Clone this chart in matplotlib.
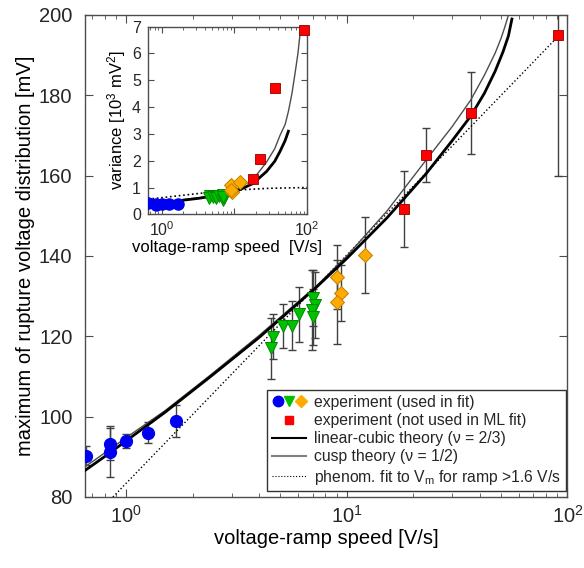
import matplotlib
matplotlib.use('Agg')
import matplotlib.pyplot as plt
from matplotlib.legend_handler import HandlerTuple
from matplotlib.lines import Line2D
from matplotlib.ticker import LogLocator, NullFormatter

plt.rcParams['font.family'] = ['Liberation Sans', 'DejaVu Sans']
plt.rcParams['mathtext.fontset'] = 'custom'
plt.rcParams['mathtext.rm'] = 'Liberation Sans'
plt.rcParams['mathtext.it'] = 'Liberation Sans:italic'
plt.rcParams['text.color'] = '0.15'

# --- data ---
blue_x = [0.66, 0.84, 0.84, 1.0, 1.26, 1.68]
blue_v = [90.3, 93.1, 91.3, 94.0, 96.0, 98.9]
blue_err = [2.4, 4.0, 6.3, 1.8, 2.6, 4.0]
blue_var = [0.42, 0.35, 0.38, 0.40, 0.37, 0.38]

green_x = [4.61, 4.52, 5.12, 5.62, 6.09, 7.04, 7.15, 6.95, 7.04]
green_v = [119.9, 117.0, 122.6, 122.6, 125.5, 129.5, 127.8, 126.5, 124.8]
green_err = [5.6, 7.5, 5.4, 6.1, 6.8, 7.0, 8.3, 10.0, 7.0]
green_var = [0.68, 0.60, 0.65, 0.62, 0.70, 0.72, 0.60, 0.55, 0.65]

orange_x = [9.04, 9.37, 9.04, 12.06]
orange_v = [134.7, 130.7, 128.6, 140.2]
orange_err = [8.0, 7.0, 10.5, 9.5]
orange_var = [1.10, 0.85, 0.90, 1.20]

red_x = [18.1, 22.8, 36.4, 91.0]
red_v = [151.7, 165.1, 175.6, 195.0]
red_err = [9.5, 6.7, 10.3, 35.0]
red_var = [1.32, 2.07, 4.72, 6.87]

# theory curves (main panel)
lc_x = [0.65, 0.8, 1.0, 1.5, 2.4, 4.0, 7.3, 10, 15.2, 22.8, 30, 36.4, 42, 47, 51, 54, 56]
lc_v = [86.6, 90.1, 94.0, 101.1, 109.9, 119.7, 132.3, 139.4, 149.5, 160.4, 168.7,
        174.8, 180.5, 186.0, 190.8, 194.8, 199.0]
cusp_x = [0.65, 0.8, 1.0, 1.5, 2.4, 4.0, 7.3, 10, 15.2, 22.8, 30, 36.4, 42, 47, 50, 52, 54, 56]
cusp_v = [87.5, 91.0, 94.8, 101.5, 110.3, 120.2, 132.6, 140.0, 151.2, 163.8, 172.2,
          178.8, 185.0, 190.5, 194.2, 197.0, 200.0, 203.5]
phenom_x = [0.87, 90.0]
phenom_v = [80.0, 194.5]

# theory curves (inset, variance)
lc_var_x = [0.65, 1.0, 3.3, 9.6, 18.1, 27.8, 36, 42.6, 50, 55.5]
lc_var = [0.40, 0.43, 0.60, 0.80, 1.15, 1.60, 1.98, 2.35, 2.75, 3.10]
cusp_var_x = [0.65, 1.0, 3.3, 9.6, 18.1, 27.8, 36, 42.6, 50, 55.5, 62, 68.8, 75, 80.7, 85]
cusp_var = [0.42, 0.45, 0.62, 0.85, 1.30, 1.95, 2.45, 2.95, 3.35, 3.84, 4.5, 5.3, 6.0, 6.8, 7.3]
phenom_var_x = [0.65, 1.0, 3.3, 9.6, 30, 100]
phenom_var = [0.57, 0.62, 0.78, 0.90, 0.97, 1.00]

c_blue = '#0000f0'
c_green = '#00c000'
c_orange = '#ffaa00'
c_red = '#ff0000'
err_kw = dict(fmt='none', ecolor='0.25', elinewidth=1.0, capsize=3, capthick=1.0, zorder=2)

fig = plt.figure(figsize=(5.84, 5.68), dpi=100)
ax = fig.add_axes([0.1455, 0.125, 0.8262, 0.8486])

ax.plot(phenom_x, phenom_v, ':', color='k', lw=1.0, zorder=3)
ax.plot(cusp_x, cusp_v, '-', color='0.3', lw=1.0, zorder=3)
ax.plot(lc_x, lc_v, '-', color='k', lw=2.0, zorder=3)

ax.errorbar(blue_x, blue_v, yerr=blue_err, **err_kw)
ax.errorbar(green_x, green_v, yerr=green_err, **err_kw)
ax.errorbar(orange_x, orange_v, yerr=orange_err, **err_kw)
ax.errorbar(red_x, red_v, yerr=red_err, **err_kw)

ax.plot(blue_x, blue_v, 'o', color=c_blue, mec=c_blue, ms=8.5, ls='none', zorder=4)
ax.plot(green_x, green_v, 'v', color=c_green, mec='#008a00', mew=0.7, ms=9, ls='none', zorder=4)
ax.plot(orange_x, orange_v, 'D', color=c_orange, mec='#c08000', mew=0.7, ms=7, ls='none', zorder=4)
ax.plot(red_x, red_v, 's', color=c_red, mec='#900000', mew=0.6, ms=7, ls='none', zorder=4)

ax.set_xscale('log')
ax.set_xlim(0.65, 100)
ax.set_ylim(80, 200)
ax.set_yticks(range(80, 201, 20))
ax.xaxis.set_minor_locator(LogLocator(base=10, subs=range(2, 10)))
ax.xaxis.set_minor_formatter(NullFormatter())
ax.tick_params(which='both', direction='in', top=True, right=True, colors='0.3',
               labelcolor='0.15', labelsize=14.5)
ax.tick_params(which='major', length=6, width=0.8)
ax.tick_params(which='minor', length=3, width=0.6)
ax.tick_params(axis='y', pad=9)
ax.tick_params(axis='x', pad=6)
for s in ax.spines.values():
    s.set_color('0.3')
    s.set_linewidth(1.0)
ax.set_xlabel('voltage-ramp speed [V/s]', fontsize=14.5, labelpad=1)
ax.set_ylabel('maximum of rupture voltage distribution [mV]', fontsize=14.5, labelpad=3)

h_exp = (Line2D([], [], marker='o', color=c_blue, ls='none', ms=7.5),
         Line2D([], [], marker='v', color=c_green, ls='none', ms=7.5),
         Line2D([], [], marker='D', color=c_orange, ls='none', ms=6))
h_red = Line2D([], [], marker='s', color=c_red, ls='none', ms=6)
h_lc = Line2D([], [], color='k', lw=1.5)
h_cusp = Line2D([], [], color='0.5', lw=1.5)
h_ph = Line2D([], [], color='k', lw=0.8, ls=':')
leg = ax.legend([h_exp, h_red, h_lc, h_cusp, h_ph],
                ['experiment (used in fit)', 'experiment (not used in ML fit)',
                 'linear-cubic theory (\u03bd = 2/3)', 'cusp theory (\u03bd = 1/2)',
                 'phenom. fit to V$_\\mathrm{m}$ for ramp >1.6 V/s'],
                handler_map={tuple: HandlerTuple(ndivide=None, pad=0.0)},
                loc='lower right', bbox_to_anchor=(0.997, 0.012), borderaxespad=0,
                fontsize=11.3, handlelength=2.2, handletextpad=0.5, labelspacing=0.2,
                borderpad=0.3, fancybox=False, framealpha=1, edgecolor='0.2')
leg.get_frame().set_linewidth(1.0)

# inset: variance
ins = fig.add_axes([0.2534, 0.6227, 0.2723, 0.3303])
ins.plot(phenom_var_x, phenom_var, ':', color='k', lw=1.2, zorder=3)
ins.plot(cusp_var_x, cusp_var, '-', color='0.3', lw=1.0, zorder=3)
ins.plot(lc_var_x, lc_var, '-', color='k', lw=2.0, zorder=3)
ins.plot(blue_x, blue_var, 'o', color=c_blue, mec=c_blue, ms=8, ls='none', zorder=4)
ins.plot(green_x, green_var, 'v', color=c_green, mec='#008a00', mew=0.7, ms=9, ls='none', zorder=4)
ins.plot(orange_x, orange_var, 'D', color=c_orange, mec='#c08000', mew=0.7, ms=7, ls='none', zorder=4)
ins.plot(red_x, red_var, 's', color=c_red, mec='#900000', mew=0.6, ms=7, ls='none', zorder=4,
         clip_on=False)
ins.set_xscale('log')
ins.set_xlim(0.65, 100)
ins.set_ylim(0, 7)
ins.set_yticks(range(0, 8))
ins.set_xticks([1, 10, 100])
ins.set_xticklabels(['$10^0$', '', '$10^2$'])
ins.xaxis.set_minor_locator(LogLocator(base=10, subs=range(2, 10)))
ins.xaxis.set_minor_formatter(NullFormatter())
ins.tick_params(which='both', direction='in', top=True, right=True, colors='0.3',
                labelcolor='0.15', labelsize=11.5)
ins.tick_params(which='major', length=4, width=0.8)
ins.tick_params(which='minor', length=2, width=0.6)
ins.tick_params(axis='y', pad=5)
ins.tick_params(axis='x', pad=4)
for s in ins.spines.values():
    s.set_color('0.3')
    s.set_linewidth(1.0)
ins.set_xlabel('voltage-ramp speed  [V/s]', fontsize=12, labelpad=1)
ins.set_ylabel('variance [10$^3$ mV$^2$]', fontsize=12, labelpad=3)

fig.savefig('out.png', dpi=100)
